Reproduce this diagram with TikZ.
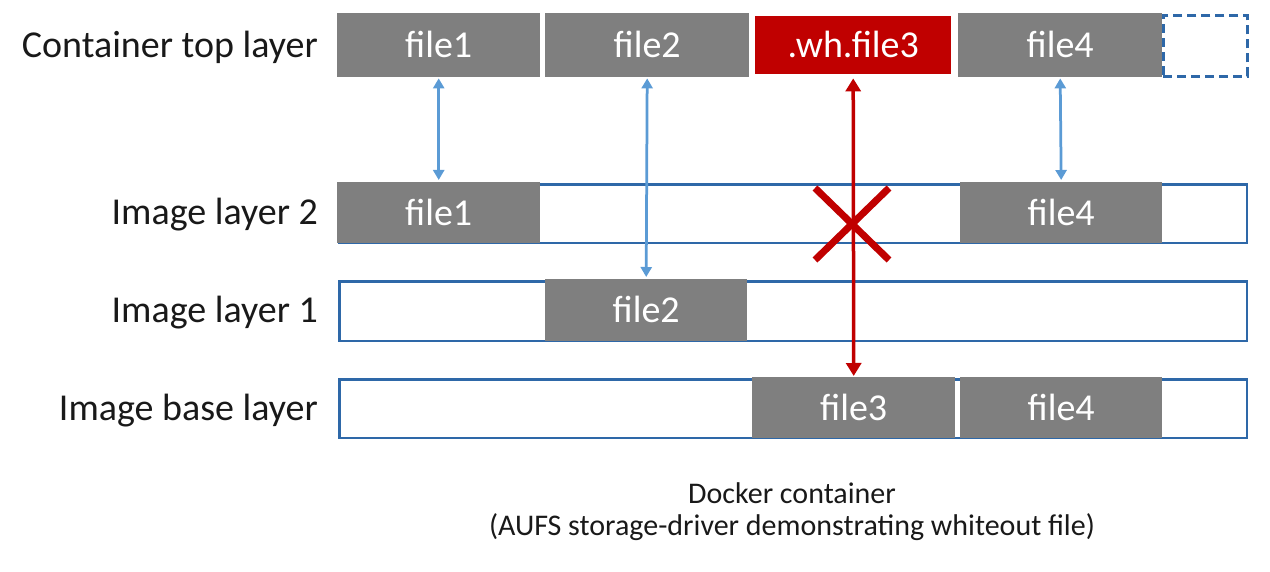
\documentclass[tikz,border=0pt]{standalone}
\usepackage{fontspec}
\setmainfont{Carlito}
\usetikzlibrary{arrows.meta}
\definecolor{blockgray}{RGB}{127,127,127}
\definecolor{whred}{RGB}{192,0,0}
\definecolor{layerblue}{RGB}{46,104,168}
\definecolor{linkblue}{RGB}{91,155,213}
\definecolor{labelink}{RGB}{25,25,25}
\begin{document}
\begin{tikzpicture}[x=1pt,y=-1pt,
  layerbox/.style={draw=layerblue, line width=2.5pt, fill=white, inner sep=0pt, anchor=north west},
  filebox/.style={fill=blockgray, text=white, inner sep=0pt, anchor=north west,
    text height=25pt, text depth=0pt, font=\fontsize{38}{46}\selectfont},
  whitebox/.style={filebox, fill=whred},
  rowlabel/.style={text=labelink, inner sep=0pt, anchor=east,
    text height=25pt, text depth=0pt, font=\fontsize{38}{46}\selectfont},
  caption/.style={text=labelink, inner sep=0pt, font=\fontsize{30}{34}\selectfont},
  linkarrow/.style={draw=linkblue, line width=2.75pt, {Triangle[length=10pt,width=11pt]}-{Triangle[length=10pt,width=11pt]}, shorten <=1pt, shorten >=2pt},
  cutarrow/.style={draw=whred, line width=3.5pt, {Triangle[length=13pt,width=15pt]}-{Triangle[length=13pt,width=15pt]}, shorten <=4pt, shorten >=1pt},
  crossmark/.style={draw=whred, line width=7pt}
]
\useasboundingbox (0,0) rectangle (1270,572);

% row labels
\node[rowlabel] (lt) at (318,45) {Container top layer};
\node[rowlabel] (l2) at (318,212.5) {Image layer 2};
\node[rowlabel] (l1) at (318,310) {Image layer 1};
\node[rowlabel] (l0) at (318,407.5) {Image base layer};

% container top layer
\node[layerbox, dashed, dash pattern=on 9pt off 5pt, minimum width=84pt, minimum height=61pt] (t5) at (1162,14.25) {};
\node[filebox, minimum width=203pt, minimum height=64pt] (t1) at (337,13) {file1};
\node[filebox, minimum width=204pt, minimum height=64pt] (t2) at (545,13) {file2};
\node[whitebox, minimum width=196pt, minimum height=58pt] (t3) at (755,16) {.wh.file3};
\node[filebox, minimum width=204pt, minimum height=64pt] (t4) at (958,13) {file4};

% image layer 2
\node[layerbox, minimum width=907.5pt, minimum height=58.5pt] (r2) at (338.25,183.25) {};
\node[filebox, minimum width=203pt, minimum height=61pt] (a1) at (337,182) {file1};
\node[filebox, minimum width=202pt, minimum height=61pt] (a4) at (960,182) {file4};

% image layer 1
\node[layerbox, minimum width=907.5pt, minimum height=59.5pt] (r1) at (338.25,280.25) {};
\node[filebox, minimum width=202pt, minimum height=62pt] (b2) at (545,279) {file2};

% image base layer
\node[layerbox, minimum width=907.5pt, minimum height=58.5pt] (r0) at (338.25,378.25) {};
\node[filebox, minimum width=203pt, minimum height=61pt] (c3) at (752,377) {file3};
\node[filebox, minimum width=202pt, minimum height=61pt] (c4) at (960,377) {file4};

% links between layers
\draw[linkarrow] (t1.south) -- (a1.north);
\draw[linkarrow] (t2.south) -- (b2.north);
\draw[linkarrow] (t4.south) -- (a4.north);
\draw[cutarrow] (t3.south) -- (c3.north);

% whiteout cross
\draw[crossmark] (815,188) -- (889,260) (889,188) -- (815,260);

% caption
\node[caption] (cap1) at (792,493) {Docker container};
\node[caption] (cap2) at (792,527) {(AUFS storage-driver demonstrating whiteout file)};
\end{tikzpicture}
\end{document}
